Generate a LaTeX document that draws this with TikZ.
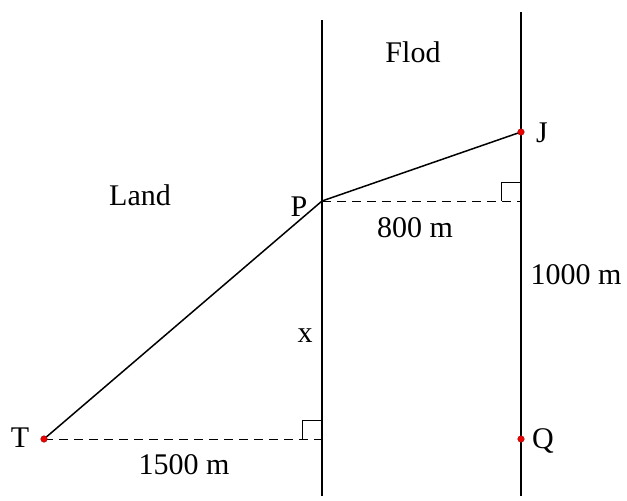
\documentclass[tikz,border=0pt]{standalone}
\usepackage{fontspec}
\setmainfont{Liberation Serif}
\usetikzlibrary{calc}
\definecolor{dotred}{HTML}{F00000}
\definecolor{dotrim}{HTML}{8A1010}

\begin{document}
\begin{tikzpicture}[x=1pt, y=-1pt, font=\fontsize{30}{34}\selectfont]
  \tikzset{
    bank/.style={line width=1.6pt},
    route/.style={line width=1.5pt},
    guide/.style={line width=0.9pt, dash pattern=on 9pt off 6pt},
    rightmark/.style={line width=1pt},
    dot/.style={fill=dotred, draw=dotrim, line width=0.4pt}
  }
  \useasboundingbox (0,0) rectangle (627,501);

  % the four points
  \coordinate (T) at (44,439);
  \coordinate (P) at (322,201);
  \coordinate (J) at (521,132);
  \coordinate (Q) at (521,439);
  \coordinate (Tfoot) at (322,439);
  \coordinate (Pfoot) at (521,201);

  % river banks
  \coordinate (leftup) at (322,20);
  \coordinate (leftdown) at (322,496);
  \coordinate (rightup) at (521,12);
  \coordinate (rightdown) at (521,496);
  \draw[bank] (leftup) -- (leftdown);
  \draw[bank] (rightup) -- (rightdown);

  % path and helper lines
  \draw[route] (T) -- (P) -- (J);
  \draw[guide] (T) -- (Tfoot);
  \draw[guide] (P) -- (Pfoot);
  \draw[rightmark] ($(Tfoot)+(-20,0)$) -- ++(0,-19) -- ++(20,0);
  \draw[rightmark] ($(Pfoot)+(-20,0)$) -- ++(0,-19) -- ++(20,0);

  \foreach \pt in {T,J,Q} \draw[dot] (\pt) circle (3.3);

  % labels
  \node (flod) at (413,52) {Flod};
  \node (land) at (140,195) {Land};
  \node (lblP) at (299,207) {P};
  \node (lblT) at (20,438) {T};
  \node (lblJ) at (542,133) {J};
  \node (lblQ) at (543,441) {Q};
  \node (lblx) at (305,336) {x};
  \node (d800) at (415,228) {800 m};
  \node (d1000) at (576,275) {1000 m};
  \node (d1500) at (184,465) {1500 m};
\end{tikzpicture}
\end{document}
